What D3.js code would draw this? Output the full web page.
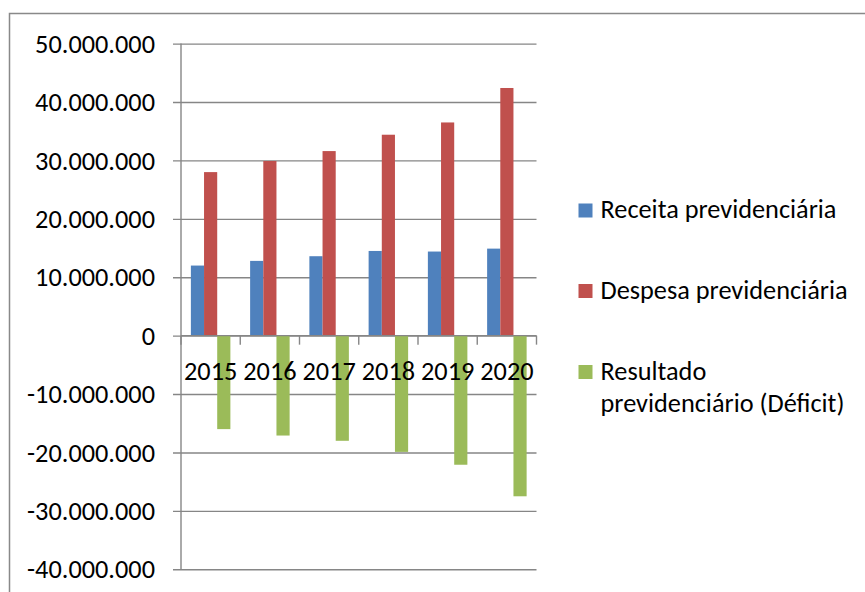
<!DOCTYPE html>
<html>
<head>
<meta charset="utf-8">
<script src="https://cdn.jsdelivr.net/npm/d3@7/dist/d3.min.js"></script>
<style>
  html, body { margin: 0; padding: 0; background: #fff; }
  svg { display: block; }
  text { font-family: Calibri, Carlito, "Liberation Sans", Arial, sans-serif; fill: #000; }
</style>
</head>
<body>
<svg id="chart" width="865" height="592"></svg>
<script>
// Previdência: receita, despesa e resultado (2015–2020)
const years = ["2015", "2016", "2017", "2018", "2019", "2020"];
const seriesNames = ["Receita previdenciária", "Despesa previdenciária", "Resultado previdenciário (Déficit)"];
const receita = [12000000, 12800000, 13600000, 14500000, 14400000, 14900000];
const despesa = [28000000, 29900000, 31600000, 34400000, 36500000, 42400000];
const resultado = [-16000000, -17100000, -18000000, -19900000, -22100000, -27500000];
const yTicks = [50000000, 40000000, 30000000, 20000000, 10000000, 0, -10000000, -20000000, -30000000, -40000000];
const colors = ["#4F81BD", "#C0504D", "#9BBB59"];

const seriesValues = [receita, despesa, resultado];
const fontSize = 26.3;
const fontFamily = 'Calibri, Carlito, "Liberation Sans", Arial, sans-serif';

const svg = d3.select("#chart");
const gridColor = "#868686";

// Outer frame
svg.append("rect")
  .attr("x", 9.5).attr("y", 13.5)
  .attr("width", 880).attr("height", 600)
  .attr("fill", "none")
  .attr("stroke", "#898989")
  .attr("stroke-width", 1.5);

const plot = { left: 181, right: 536.5, top: 43.6, bottom: 569.3 };

const y = d3.scaleLinear()
  .domain([-40000000, 50000000])
  .range([plot.bottom, plot.top]);

const x0 = d3.scaleBand()
  .domain(years)
  .range([plot.left, plot.right])
  .paddingInner(0).paddingOuter(0);

const x1 = d3.scaleBand()
  .domain(d3.range(seriesNames.length))
  .range([0, x0.bandwidth()])
  .paddingInner(0).paddingOuter(0.75);

const locale = d3.formatLocale({ decimal: ",", thousands: ".", grouping: [3], currency: ["R$", ""], minus: "-" });
const fmt = locale.format(",.0f");

// Horizontal gridlines with tick labels
const yAxis = d3.axisLeft(y)
  .tickValues(yTicks)
  .tickFormat(fmt)
  .tickSize(-(plot.right - plot.left))
  .tickPadding(26);

const gy = svg.append("g")
  .attr("transform", `translate(${plot.left},0)`)
  .call(yAxis);
gy.select(".domain").remove();
gy.selectAll(".tick line")
  .attr("x1", -8)
  .attr("stroke", gridColor)
  .attr("stroke-width", 1.4);
gy.selectAll(".tick text")
  .attr("font-size", fontSize)
  .attr("dy", "0.33em")
  .style("font-family", fontFamily);

// Vertical axis line
svg.append("line")
  .attr("x1", plot.left).attr("x2", plot.left)
  .attr("y1", y(50000000)).attr("y2", y(-40000000))
  .attr("stroke", gridColor).attr("stroke-width", 1.4);

// Bars
const groups = svg.append("g").selectAll("g")
  .data(years)
  .join("g")
  .attr("transform", d => `translate(${x0(d)},0)`);

groups.selectAll("rect")
  .data((yr, i) => seriesValues.map((vals, s) => ({ s, v: vals[i] })))
  .join("rect")
  .attr("x", d => x1(d.s))
  .attr("width", x1.bandwidth())
  .attr("y", d => y(Math.max(0, d.v)))
  .attr("height", d => Math.abs(y(d.v) - y(0)))
  .attr("fill", d => colors[d.s]);

// Category axis on the zero line
const xAxis = d3.axisBottom(x0).tickSize(0).tickPadding(0);
const gx = svg.append("g")
  .attr("transform", `translate(0,${y(0)})`)
  .call(xAxis);
gx.select(".domain").remove();
gx.selectAll(".tick text")
  .attr("y", 44)
  .attr("dy", 0)
  .attr("font-size", fontSize)
  .style("font-family", fontFamily);

svg.append("line")
  .attr("x1", plot.left).attr("x2", plot.right)
  .attr("y1", y(0)).attr("y2", y(0))
  .attr("stroke", gridColor).attr("stroke-width", 1.4);

// Category boundary ticks
const boundaries = years.map(d => x0(d)).concat([plot.right]);
svg.append("g").selectAll("line")
  .data(boundaries)
  .join("line")
  .attr("x1", d => d).attr("x2", d => d)
  .attr("y1", y(0)).attr("y2", y(0) + 9)
  .attr("stroke", gridColor).attr("stroke-width", 1.4);

// Legend
const legendRows = [
  { lines: [seriesNames[0]], baseline: 218 },
  { lines: [seriesNames[1]], baseline: 298.5 },
  { lines: ["Resultado", "previdenciário (Déficit)"], baseline: 379.5 }
];
const legend = svg.append("g");
legendRows.forEach((row, i) => {
  legend.append("rect")
    .attr("x", 578.5).attr("y", row.baseline - 14.5)
    .attr("width", 14).attr("height", 14)
    .attr("fill", colors[i]);
  const t = legend.append("text")
    .attr("x", 600.5).attr("y", row.baseline)
    .attr("font-size", fontSize);
  row.lines.forEach((ln, j) => {
    t.append("tspan")
      .attr("x", 600.5)
      .attr("dy", j === 0 ? 0 : 32.4)
      .text(ln);
  });
});
</script>
</body>
</html>
